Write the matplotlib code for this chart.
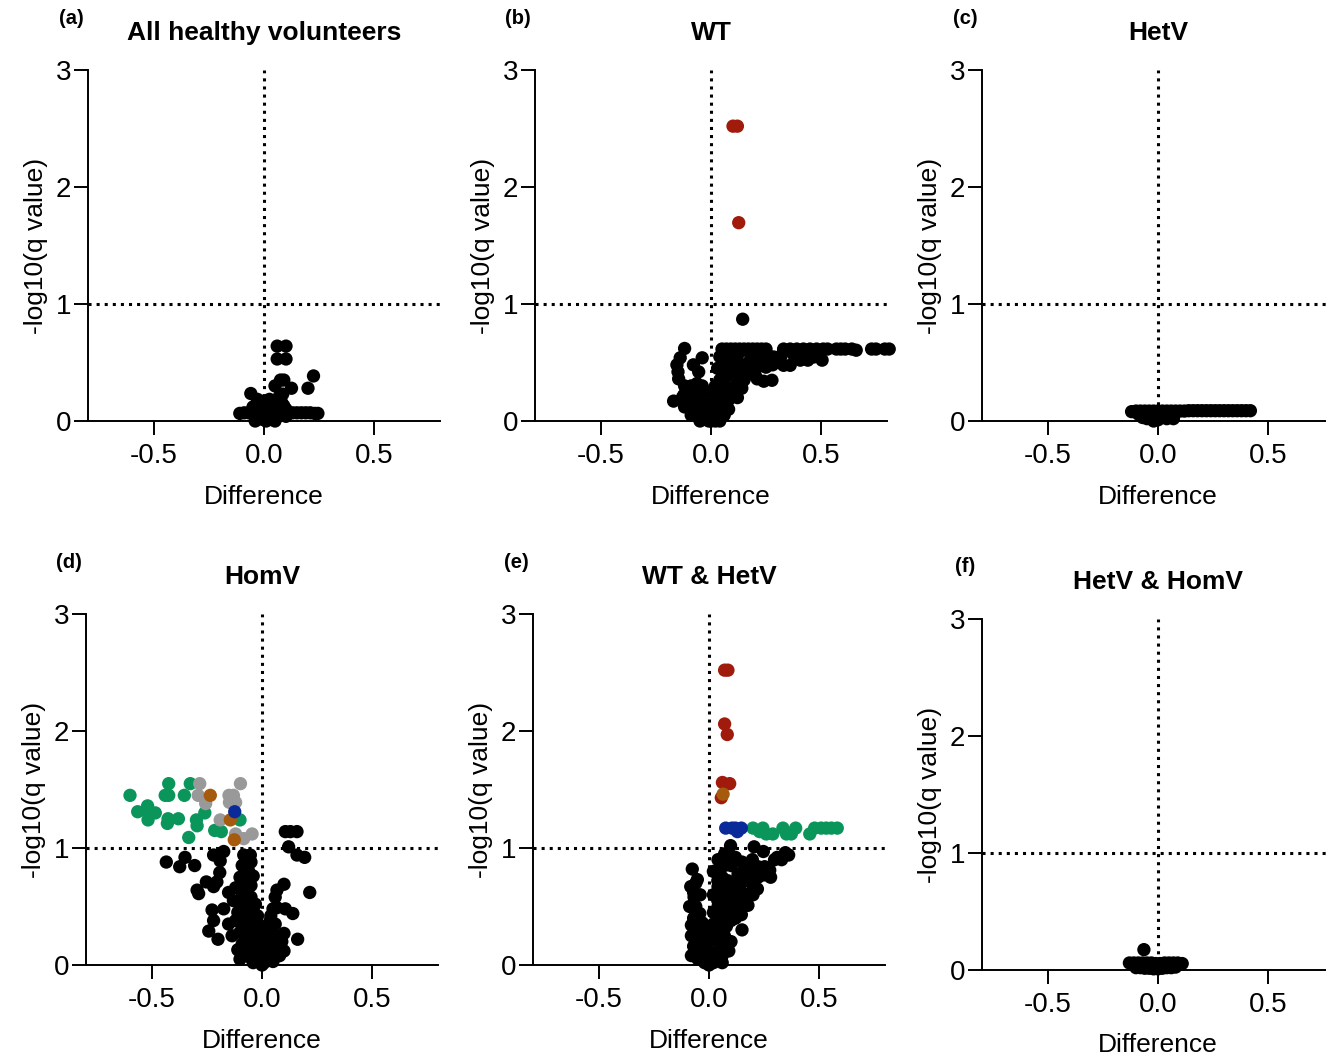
import matplotlib
matplotlib.use('Agg')
import matplotlib.pyplot as plt

plt.rcParams['font.family'] = ['Liberation Sans', 'DejaVu Sans']
plt.rcParams['axes.unicode_minus'] = False

# ---- data: (difference, -log10 q) ----
titles = ['All healthy volunteers', 'WT', 'HetV', 'HomV', 'WT & HetV', 'HetV & HomV']
letters = ['(a)', '(b)', '(c)', '(d)', '(e)', '(f)']

a_black = [
    (0.06, 0.64), (0.10, 0.64), (0.06, 0.53), (0.10, 0.53), (0.075, 0.35), (0.09, 0.35),
    (0.05, 0.30), (0.125, 0.28), (0.225, 0.385), (0.20, 0.28), (-0.06, 0.235), (-0.03, 0.185),
    (0.025, 0.185), (0.07, 0.21), (0.085, 0.23),
    (-0.11, 0.065), (-0.09, 0.07), (-0.07, 0.07), (-0.05, 0.07), (-0.03, 0.07), (-0.01, 0.07),
    (0.01, 0.07), (0.03, 0.07), (0.05, 0.07), (0.07, 0.07), (0.09, 0.07), (0.11, 0.07),
    (0.13, 0.07), (0.15, 0.07), (0.17, 0.07), (0.19, 0.07), (0.21, 0.07), (0.23, 0.065),
    (0.245, 0.065), (-0.04, 0.0), (-0.02, 0.02), (0.0, 0.01), (0.02, 0.03), (0.04, 0.05),
    (0.06, 0.04), (0.08, 0.06), (0.1, 0.1), (0.0, 0.12), (0.02, 0.15), (0.04, 0.12),
    (-0.02, 0.1), (0.06, 0.14), (0.08, 0.16), (0.01, 0.0), (0.0, 0.17), (-0.03, 0.04),
    (0.05, 0.0), (0.03, 0.02), (0.03, 0.1), (0.07, 0.11), (-0.05, 0.12), (0.09, 0.13),
    (0.05, 0.17), (-0.01, 0.05), (0.06, 0.09), (0.1, 0.04),
]

b_black = [
    (0.05, 0.615), (0.07, 0.615), (0.09, 0.615), (0.11, 0.615), (0.13, 0.615), (0.15, 0.615),
    (0.17, 0.615), (0.19, 0.615), (0.21, 0.615), (0.23, 0.615), (0.25, 0.615), (0.33, 0.615),
    (0.36, 0.615), (0.39, 0.615), (0.42, 0.615), (0.45, 0.615), (0.48, 0.615), (0.51, 0.615),
    (0.53, 0.615), (0.57, 0.615), (0.59, 0.615), (0.61, 0.615), (0.64, 0.615), (0.66, 0.605),
    (0.73, 0.615), (0.75, 0.615), (0.79, 0.615), (0.81, 0.615), (0.144, 0.87),
    (0.285, 0.547), (0.36, 0.476), (0.406, 0.52), (0.467, 0.547), (0.505, 0.52), (0.33, 0.476),
    (0.277, 0.348), (0.21, 0.36), (0.224, 0.476), (0.255, 0.50),
    (-0.12, 0.62), (-0.14, 0.54), (-0.155, 0.48), (-0.147, 0.36), (-0.04, 0.54), (-0.08, 0.48),
    (-0.056, 0.42), (-0.064, 0.32), (-0.17, 0.17), (-0.124, 0.22), (-0.11, 0.16), (-0.086, 0.105),
    (-0.1, 0.2), (-0.07, 0.15), (-0.05, 0.1), (-0.03, 0.05), (-0.06, 0.05), (-0.09, 0.05),
    (-0.12, 0.12), (-0.04, 0.2), (-0.02, 0.15), (0.0, 0.05), (0.0, 0.1), (0.01, 0.02),
    (-0.01, 0.0), (0.02, 0.0), (0.04, 0.03), (0.06, 0.05), (0.08, 0.1), (0.05, 0.12),
    (0.03, 0.2), (0.01, 0.25), (0.02, 0.3), (0.04, 0.35), (0.03, 0.45), (0.04, 0.55),
    (0.06, 0.5), (0.08, 0.45), (0.1, 0.4), (0.12, 0.38), (0.11, 0.3), (0.09, 0.25),
    (0.07, 0.2), (0.1, 0.55), (0.13, 0.48), (0.15, 0.44), (0.17, 0.5), (0.2, 0.55),
    (0.18, 0.58), (0.23, 0.57), (0.26, 0.56), (0.3, 0.52), (0.28, 0.48), (0.15, 0.35),
    (0.12, 0.2), (0.14, 0.28), (0.16, 0.39), (0.19, 0.48), (-0.02, 0.25), (-0.08, 0.25),
    (0.0, 0.0), (0.02, 0.02), (-0.02, 0.03), (0.03, 0.08), (-0.03, 0.1), (0.05, 0.07),
    (0.06, 0.15), (0.08, 0.18), (0.1, 0.22), (0.12, 0.27), (0.14, 0.33), (0.13, 0.4),
    (0.16, 0.45), (0.18, 0.42), (0.06, 0.3), (0.07, 0.38), (0.05, 0.42), (0.08, 0.52),
    (0.06, 0.58), (0.12, 0.56), (0.14, 0.6), (0.22, 0.52), (0.25, 0.46), (0.2, 0.4),
    (0.04, 0.25), (0.02, 0.18), (-0.01, 0.13), (-0.04, 0.3), (-0.06, 0.22), (-0.09, 0.3),
    (-0.12, 0.3), (-0.15, 0.42), (-0.13, 0.2), (0.32, 0.56), (0.38, 0.55), (0.44, 0.52),
    (0.24, 0.34), (-0.05, 0.0), (0.04, 0.0), (-0.07, 0.08),
]
b_red = [(0.10, 2.52), (0.12, 2.52), (0.126, 1.695)]

c_black = [
    (-0.12, 0.08), (-0.10, 0.085), (-0.08, 0.085), (-0.06, 0.085), (-0.04, 0.085), (-0.02, 0.085),
    (0.0, 0.085), (0.02, 0.085), (0.04, 0.085), (0.06, 0.085), (0.08, 0.085), (0.10, 0.085),
    (0.12, 0.085), (0.14, 0.088), (0.16, 0.088), (0.18, 0.088), (0.20, 0.088), (0.22, 0.088),
    (0.24, 0.088), (0.26, 0.088), (0.28, 0.088), (0.30, 0.088), (0.32, 0.088), (0.34, 0.088),
    (0.36, 0.088), (0.38, 0.088), (0.40, 0.088), (0.42, 0.088),
    (-0.07, 0.03), (-0.05, 0.02), (-0.02, 0.0), (0.0, 0.01), (0.02, 0.03), (0.04, 0.02),
    (0.06, 0.04), (-0.03, 0.05), (0.01, 0.06), (0.07, 0.02), (-0.09, 0.06),
]

d_black = [
    (0.106, 1.14), (0.129, 1.14), (0.159, 1.14), (0.121, 1.01), (0.159, 0.94), (0.194, 0.92),
    (0.217, 0.62), (-0.435, 0.88), (-0.35, 0.92), (-0.374, 0.84), (-0.306, 0.85), (-0.253, 0.71),
    (-0.295, 0.64), (-0.288, 0.61), (-0.22, 0.94), (-0.174, 0.97), (-0.19, 0.89), (-0.192, 0.79),
    (-0.205, 0.71), (-0.22, 0.67), (-0.152, 0.62), (-0.227, 0.47), (-0.22, 0.38), (-0.242, 0.29),
    (-0.2, 0.22), (-0.174, 0.48), (-0.152, 0.35), (-0.136, 0.25),
    (-0.083, 0.94), (-0.053, 0.94), (-0.07, 0.88), (-0.09, 0.85), (-0.06, 0.80), (-0.1, 0.75),
    (-0.075, 0.72), (-0.05, 0.68), (-0.12, 0.66), (-0.09, 0.62), (-0.065, 0.6), (-0.13, 0.55),
    (-0.1, 0.52), (-0.07, 0.5), (-0.04, 0.48), (-0.11, 0.45), (-0.08, 0.42), (-0.05, 0.4),
    (-0.12, 0.38), (-0.09, 0.35), (-0.06, 0.32), (-0.03, 0.3), (-0.1, 0.28), (-0.07, 0.25),
    (-0.04, 0.22), (-0.01, 0.2), (-0.09, 0.18), (-0.06, 0.15), (-0.03, 0.12), (0.0, 0.1),
    (-0.08, 0.1), (-0.05, 0.06), (-0.02, 0.04), (0.01, 0.02), (0.0, 0.0), (0.03, 0.05),
    (0.05, 0.1), (0.02, 0.14), (0.07, 0.15), (0.04, 0.2), (0.09, 0.2), (0.06, 0.25),
    (0.02, 0.28), (0.1, 0.12), (0.03, 0.35), (-0.02, 0.35), (-0.11, 0.13), (-0.01, 0.06),
    (0.1, 0.69), (0.068, 0.64), (0.06, 0.58), (0.068, 0.49), (0.05, 0.48), (0.106, 0.48),
    (0.14, 0.44), (0.038, 0.38), (0.045, 0.29), (0.1, 0.27), (0.162, 0.22), (0.083, 0.18),
    (0.068, 0.11), (-0.02, 0.08), (0.02, 0.08), (-0.04, 0.14), (0.0, 0.16), (0.04, 0.12),
    (-0.06, 0.2), (-0.02, 0.24), (0.02, 0.22), (-0.08, 0.3), (-0.04, 0.34), (0.0, 0.3),
    (-0.06, 0.4), (-0.02, 0.42), (-0.08, 0.46), (-0.03, 0.52), (-0.05, 0.58), (-0.08, 0.66),
    (-0.04, 0.76), (-0.07, 0.82), (-0.05, 0.88), (0.04, 0.42), (0.06, 0.35), (0.08, 0.08),
    (-0.1, 0.05), (-0.04, 0.02), (0.05, 0.03), (-0.07, 0.36), (-0.1, 0.4),
]
d_green = [
    (-0.60, 1.45), (-0.424, 1.55), (-0.326, 1.55), (-0.44, 1.45), (-0.424, 1.45), (-0.353, 1.45),
    (-0.565, 1.31), (-0.52, 1.36), (-0.515, 1.29), (-0.485, 1.30), (-0.518, 1.24), (-0.427, 1.25),
    (-0.43, 1.21), (-0.38, 1.25), (-0.298, 1.24), (-0.295, 1.19), (-0.26, 1.30), (-0.333, 1.09),
    (-0.215, 1.15), (-0.185, 1.14), (-0.10, 1.24),
]
d_grey = [
    (-0.283, 1.55), (-0.098, 1.55), (-0.29, 1.45), (-0.256, 1.38), (-0.15, 1.45), (-0.13, 1.45),
    (-0.148, 1.39), (-0.12, 1.39), (-0.19, 1.24), (-0.12, 1.12), (-0.083, 1.08), (-0.045, 1.12),
]
d_brown = [(-0.235, 1.45), (-0.144, 1.24), (-0.126, 1.07)]
d_blue = [(-0.124, 1.31)]

e_black = [
    (0.098, 1.02), (0.205, 1.01), (0.247, 0.97), (0.347, 0.96), (0.362, 0.94), (0.197, 0.90),
    (0.298, 0.90), (0.276, 0.81), (0.223, 0.75), (0.185, 0.61), (0.177, 0.51), (0.147, 0.43),
    (-0.076, 0.82), (-0.053, 0.73), (-0.083, 0.67), (-0.068, 0.58), (-0.088, 0.50), (-0.042, 0.44),
    (-0.08, 0.34), (-0.061, 0.11), (-0.07, 0.4), (-0.05, 0.3), (-0.08, 0.25), (-0.06, 0.2),
    (-0.04, 0.15), (-0.07, 0.16), (-0.03, 0.08), (-0.05, 0.05), (-0.02, 0.02), (0.0, 0.0),
    (0.01, 0.05), (0.0, 0.12), (-0.02, 0.2), (-0.01, 0.28), (-0.03, 0.36), (0.0, 0.2),
    (0.041, 0.90), (0.071, 0.95), (0.094, 0.90), (0.048, 0.81), (0.086, 0.72), (0.041, 0.67),
    (0.064, 0.58), (0.094, 0.55), (0.041, 0.50), (0.056, 0.41), (0.079, 0.33), (0.041, 0.27),
    (0.056, 0.18), (0.03, 0.1), (0.02, 0.35), (0.03, 0.6), (0.06, 0.75), (0.07, 0.85),
    (0.02, 0.45), (0.08, 0.45), (0.1, 0.6), (0.12, 0.68), (0.1, 0.38), (0.07, 0.25),
    (0.132, 0.78), (0.14, 0.67), (0.117, 0.61), (0.162, 0.72), (0.223, 0.84), (0.253, 0.84),
    (0.19, 0.82), (0.16, 0.55), (0.2, 0.68), (0.25, 0.77), (0.13, 0.5), (0.12, 0.4),
    (0.15, 0.3), (0.1, 0.2), (0.09, 0.12), (0.06, 0.08), (0.04, 0.04), (0.31, 0.92),
    (0.02, 0.6), (0.05, 0.65), (0.08, 0.62), (0.1, 0.7), (0.04, 0.72), (0.02, 0.8),
    (0.05, 0.88), (0.1, 0.85), (0.12, 0.92), (0.15, 0.88), (0.16, 0.8), (0.18, 0.72),
    (0.14, 0.58), (0.12, 0.52), (0.1, 0.48), (0.06, 0.48), (0.04, 0.55), (0.08, 0.38),
    (0.05, 0.32), (0.03, 0.22), (0.05, 0.14), (0.02, 0.02), (-0.01, 0.08), (-0.04, 0.25),
    (-0.06, 0.5), (-0.07, 0.62), (-0.04, 0.6), (-0.06, 0.7), (0.2, 0.6), (0.22, 0.65),
    (0.28, 0.75), (0.33, 0.9), (-0.05, 0.38), (-0.08, 0.08), (0.06, 0.02),
]
e_green = [
    (0.20, 1.17), (0.23, 1.14), (0.245, 1.17), (0.26, 1.12), (0.29, 1.12), (0.336, 1.17),
    (0.352, 1.12), (0.374, 1.12), (0.394, 1.17), (0.458, 1.12), (0.48, 1.17), (0.51, 1.17),
    (0.533, 1.17), (0.556, 1.17), (0.583, 1.17),
]
e_blue = [(0.076, 1.17), (0.105, 1.17), (0.129, 1.14), (0.147, 1.17), (0.12, 1.17)]
e_brown = [(0.064, 1.46)]
e_red = [(0.071, 2.52), (0.086, 2.52), (0.071, 2.06), (0.083, 1.97), (0.061, 1.56),
         (0.094, 1.55), (0.056, 1.43)]

f_black = [
    (-0.064, 0.174), (-0.13, 0.06), (-0.11, 0.06), (-0.09, 0.06), (-0.07, 0.06), (-0.05, 0.06),
    (-0.03, 0.06), (-0.01, 0.055), (0.01, 0.055), (0.03, 0.06), (0.05, 0.06), (0.07, 0.06),
    (0.09, 0.06), (0.11, 0.055), (-0.10, 0.02), (-0.08, 0.02), (-0.06, 0.015), (-0.04, 0.015),
    (-0.02, 0.01), (0.0, 0.01), (0.02, 0.015), (0.04, 0.02), (0.06, 0.02), (0.08, 0.025),
]

colours = {
    'black': '#000000', 'red': '#a01b0b', 'green': '#0a955a',
    'grey': '#999999', 'brown': '#a65a0c', 'blue': '#0b2a99',
}

panels = [
    [('black', a_black)],
    [('black', b_black), ('red', b_red)],
    [('black', c_black)],
    [('black', d_black), ('green', d_green), ('grey', d_grey), ('brown', d_brown), ('blue', d_blue)],
    [('black', e_black), ('green', e_green), ('blue', e_blue), ('red', e_red), ('brown', e_brown)],
    [('black', f_black)],
]

# axes boxes in pixels: left edge, bottom edge (from top)
W, H = 1326, 1054
boxes = [(88, 421), (535, 421), (982, 421), (86, 965), (533, 965), (982, 970)]
AW, AH = 352, 351

fig = plt.figure(figsize=(W / 100, H / 100), dpi=100)

for i, (left, bottom) in enumerate(boxes):
    ax = fig.add_axes([left / W, (H - bottom) / H, AW / W, AH / H])
    for name, pts in panels[i]:
        xs = [p[0] for p in pts]
        ys = [p[1] for p in pts]
        ax.scatter(xs, ys, s=92, color=colours[name], edgecolors='none', zorder=3, clip_on=False)

    ax.axvline(0, color='black', linestyle=':', linewidth=2.2, zorder=2)
    ax.axhline(1, color='black', linestyle=':', linewidth=2.2, zorder=2)

    ax.set_xlim(-0.8, 0.8)
    ax.set_ylim(0, 3)
    ax.set_xticks([-0.5, 0.0, 0.5])
    ax.set_xticklabels(['-0.5', '0.0', '0.5'])
    ax.set_yticks([0, 1, 2, 3])
    ax.spines['top'].set_visible(False)
    ax.spines['right'].set_visible(False)
    for sp in ('left', 'bottom'):
        ax.spines[sp].set_linewidth(1.4)
    ax.tick_params(length=10, width=1.4, labelsize=20, pad=6)
    ax.tick_params(axis='y', pad=2)

    ax.set_xlabel('Difference', fontsize=19, labelpad=11)
    ax.set_ylabel('-log10(q value)', fontsize=19, labelpad=6)

    ax.text(0.5, 1 + 37 / AH, titles[i], transform=ax.transAxes, ha='center', va='center',
            fontsize=19, fontweight='bold')
    ax.text(-17 / AW, 1 + 52 / AH, letters[i], transform=ax.transAxes, ha='center', va='center',
            fontsize=14.5, fontweight='bold')

fig.savefig('out.png', dpi=100)
